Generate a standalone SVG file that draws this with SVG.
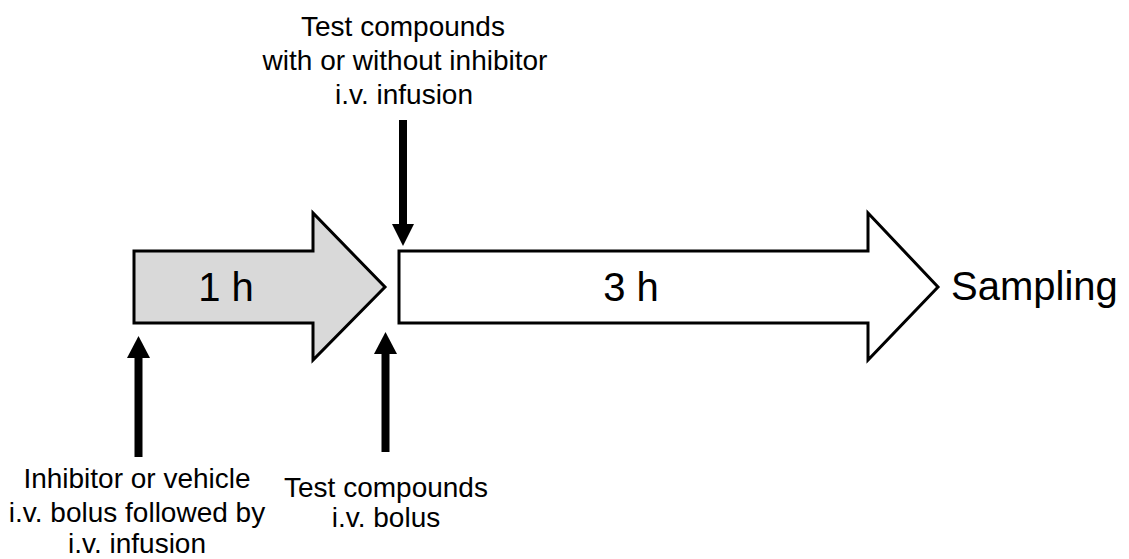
<svg xmlns="http://www.w3.org/2000/svg" width="1129" height="559" viewBox="0 0 1129 559">
<style>
  .big { font-family: "Liberation Sans", Arial, sans-serif; font-size: 40px; fill: #000; }
  .lbl { font-family: "Liberation Sans", Arial, sans-serif; font-size: 28px; fill: #000; text-anchor: middle; }
  .blk { fill: #000; }
  .shape { stroke: #000; stroke-width: 3; stroke-linejoin: miter; }
</style>
<rect width="1129" height="559" fill="#fff"/>
<g id="phase1">
  <polygon class="shape" fill="#d9d9d9" points="134,251 313,251 313,213 385,287 313,360 313,323 134,323"/>
  <text class="big" x="226" y="301" text-anchor="middle">1 h</text>
</g>
<g id="phase2">
  <polygon class="shape" fill="#fff" points="399,251 868,251 868,213 938,287 868,360 868,323 399,323"/>
  <text class="big" x="631" y="301" text-anchor="middle">3 h</text>
</g>
<g id="sampling">
  <text class="big" x="951" y="300">Sampling</text>
</g>
<g id="label-top">
  <text class="lbl" x="403" y="36">Test compounds</text>
  <text class="lbl" x="405" y="70">with or without inhibitor</text>
  <text class="lbl" x="404" y="104">i.v. infusion</text>
</g>
<g id="label-left">
  <text class="lbl" x="137" y="488">Inhibitor or vehicle</text>
  <text class="lbl" x="137" y="522">i.v. bolus followed by</text>
  <text class="lbl" x="137" y="553">i.v. infusion</text>
</g>
<g id="label-mid">
  <text class="lbl" x="386" y="497">Test compounds</text>
  <text class="lbl" x="386" y="527">i.v. bolus</text>
</g>
<g id="connectors">
  <rect class="blk" x="134.5" y="357" width="8" height="100"/>
  <polygon class="blk" points="127,358 150,358 138.5,336"/>
  <rect class="blk" x="381.5" y="353" width="8" height="99"/>
  <polygon class="blk" points="374,354 397,354 385.5,332"/>
  <rect class="blk" x="399" y="120" width="8" height="105"/>
  <polygon class="blk" points="392,224 414,224 403,246"/>
</g>
</svg>
